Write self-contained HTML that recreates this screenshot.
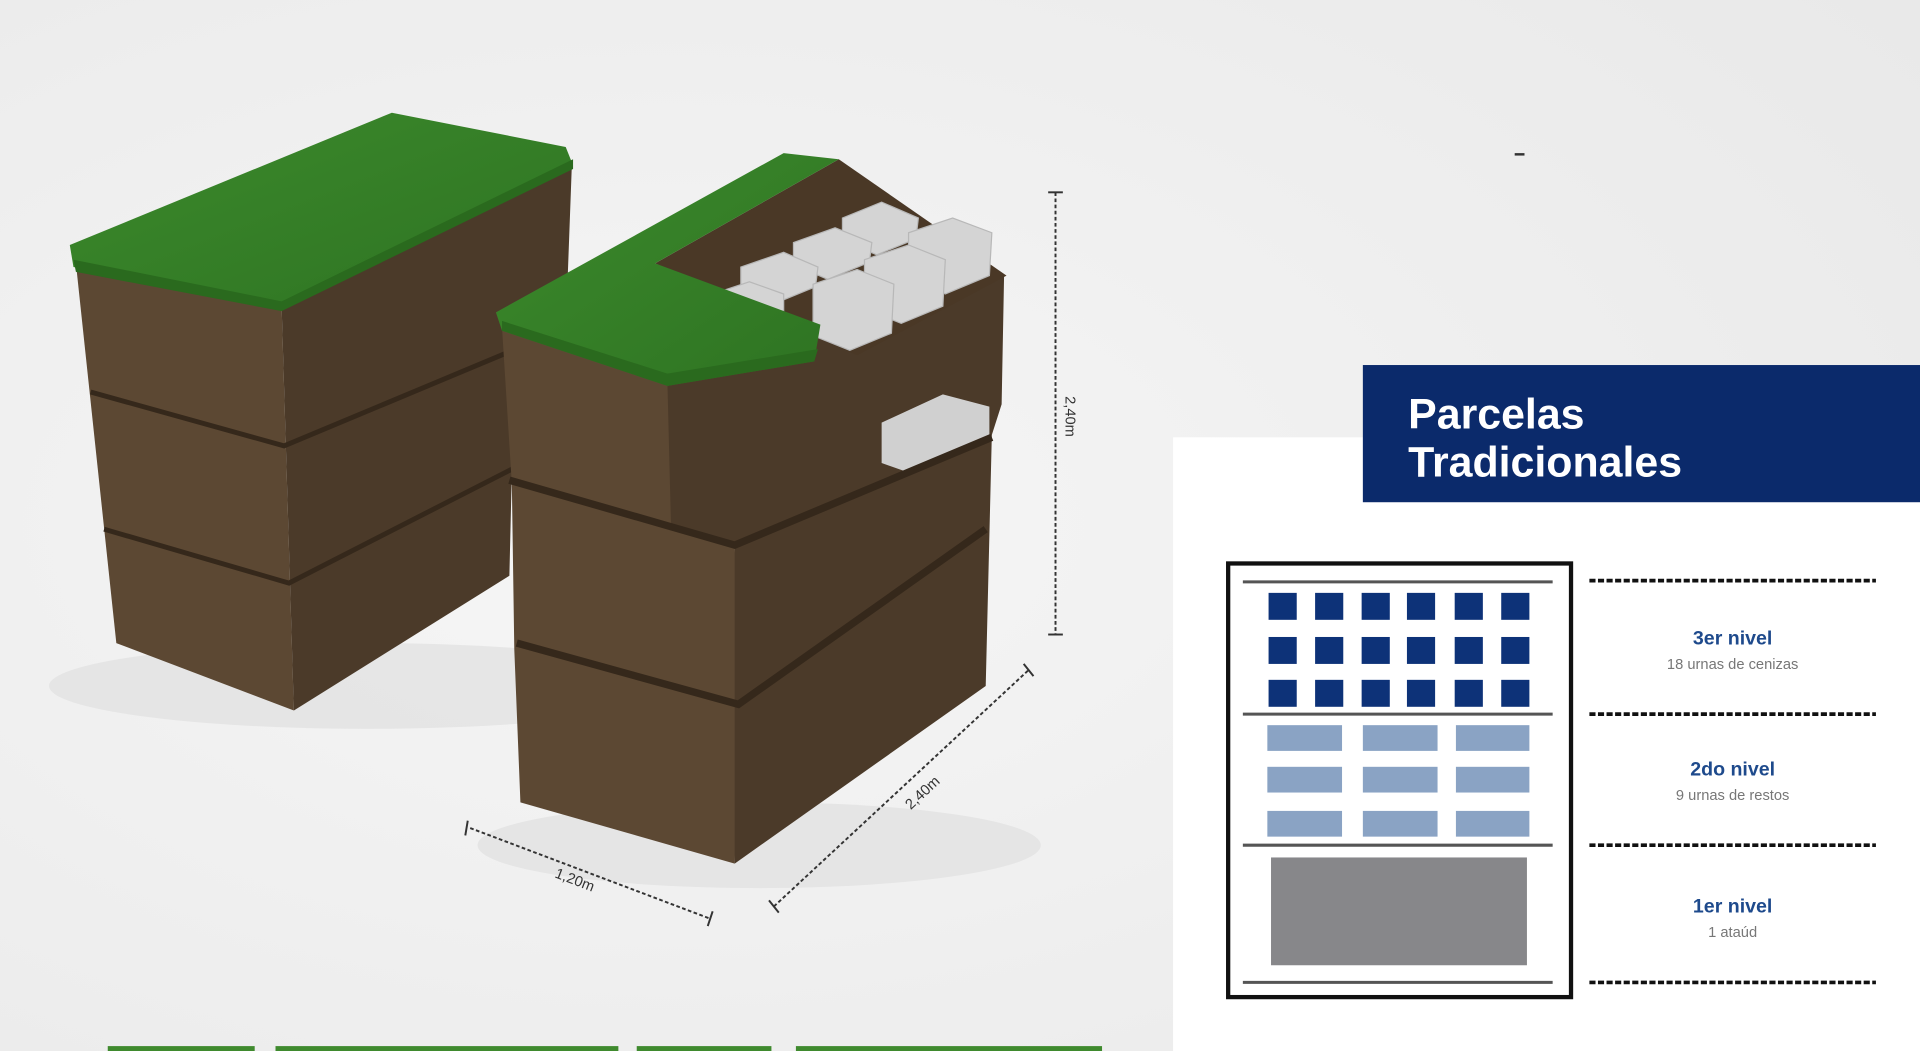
<!DOCTYPE html>
<html><head><meta charset="utf-8"><style>
html,body{margin:0;padding:0;width:1920px;height:1051px;overflow:hidden;background:#efefef}
svg{display:block}
</style></head><body>
<svg width="1920" height="1051" viewBox="0 0 1568 858" preserveAspectRatio="none" xmlns="http://www.w3.org/2000/svg">
<defs>
<radialGradient id="bg" cx="0.35" cy="0.5" r="0.8"><stop offset="0" stop-color="#f6f6f6"/><stop offset="1" stop-color="#e9e9e9"/></radialGradient>
<linearGradient id="gr" x1="0" y1="0" x2="1" y2="1"><stop offset="0" stop-color="#3c8a2c"/><stop offset="1" stop-color="#2e7322"/></linearGradient>
</defs>
<rect width="1568" height="858" fill="url(#bg)"/>
<ellipse cx="300" cy="560" rx="260" ry="35" fill="#e0e0e0" opacity="0.7"/>
<ellipse cx="620" cy="690" rx="230" ry="35" fill="#e0e0e0" opacity="0.7"/>
<!-- left block -->
<polygon points="62,215 230,250 240,580 95,525" fill="#5c4833"/>
<polygon points="230,250 467,135 462,270 420,280 418,385 416,470 240,580" fill="#4b3a29"/>
<g stroke="#35281b" stroke-width="4" fill="none">
<polyline points="74,320 232,364 462,268"/>
<polyline points="85,432 236,476 418,383"/>
</g>
<polygon points="57,200 320,92 462,120 468,135 230,252 60,218" fill="url(#gr)"/>
<polygon points="60,212 230,246 468,130 468,138 230,254 62,222" fill="#2a6a1e"/>
<!-- right block -->
<polygon points="410,268 548,312 548,430 600,445 605,570 600,705 425,655 420,530 418,395" fill="#5c4833"/>
<polygon points="545,310 820,225 818,330 810,355 805,560 600,705 600,445 548,430" fill="#4b3a29"/>
<polygon points="720,345 770,322 808,332 808,356 740,385 720,378" fill="#d0d0d0"/>
<g stroke="#35281b" stroke-width="6" fill="none">
<polyline points="416,392 548,430 600,445 810,357"/>
<polyline points="422,525 603,575 805,432"/>
</g>
<polygon points="535,215 685,130 822,225 700,290" fill="#4a3826"/>
<g fill="#d4d4d4" stroke="#b8b8b8" stroke-width="1">
<polygon points="688,178 720,165 750,178 748,195 716,208 688,196"/>
<polygon points="742,190 778,178 810,190 808,225 772,240 742,226"/>
<polygon points="648,198 682,186 712,198 710,214 676,228 648,216"/>
<polygon points="706,212 742,200 772,212 770,250 736,264 706,252"/>
<polygon points="605,218 640,206 668,218 666,234 632,248 605,236"/>
<polygon points="664,232 700,220 730,232 728,272 694,286 664,274"/>
<polygon points="588,238 612,230 640,240 640,256 612,262 588,252"/>
</g>
<polygon points="405,255 640,125 685,130 535,215 670,265 665,295 545,315 410,270" fill="url(#gr)"/>
<polygon points="410,262 545,305 668,285 665,295 545,315 410,270" fill="#2a6a1e"/>
<!-- dimension lines -->
<g stroke="#333" stroke-width="1.6" stroke-dasharray="3,2" fill="none">
<line x1="862" y1="157" x2="862" y2="518"/>
<line x1="632" y1="740" x2="840" y2="547"/>
<line x1="384" y1="676" x2="580" y2="750"/>
</g>
<g stroke="#333" stroke-width="1.6">
<line x1="856" y1="157" x2="868" y2="157"/><line x1="856" y1="518" x2="868" y2="518"/>
<line x1="628" y1="735" x2="636" y2="745"/><line x1="836" y1="542" x2="844" y2="552"/>
<line x1="382" y1="670" x2="380" y2="682"/><line x1="582" y1="744" x2="578" y2="756"/>
</g>
<g font-family="Liberation Sans, sans-serif" font-size="12" fill="#333">
<text x="0" y="0" transform="translate(870,340) rotate(90)" text-anchor="middle">2,40m</text>
<text x="0" y="0" transform="translate(756,650) rotate(-43)" text-anchor="middle">2,40m</text>
<text x="0" y="0" transform="translate(468,722) rotate(21)" text-anchor="middle">1,20m</text>
</g>
<g fill="#3f8a2e"><rect x="88" y="854" width="120" height="4"/><rect x="225" y="854" width="280" height="4"/><rect x="520" y="854" width="110" height="4"/><rect x="650" y="854" width="250" height="4"/></g>
<!-- right panel -->
<rect x="1237" y="125" width="8" height="2" fill="#333"/>
<rect x="958" y="357" width="610" height="501" fill="#fff"/>
<rect x="1113" y="298" width="455" height="112" fill="#0b2a6b"/>
<g font-family="Liberation Sans, sans-serif" font-weight="bold" font-size="35" fill="#fff">
<text x="1150" y="350">Parcelas</text>
<text x="1150" y="389">Tradicionales</text>
</g>
<rect x="1003" y="460" width="280" height="354" fill="none" stroke="#111" stroke-width="3.5"/>
<g stroke="#555" stroke-width="2.5">
<line x1="1015" y1="475" x2="1268" y2="475"/><line x1="1015" y1="583" x2="1268" y2="583"/>
<line x1="1015" y1="690" x2="1268" y2="690"/><line x1="1015" y1="802" x2="1268" y2="802"/>
</g>
<g fill="#0d3278">
<rect x="1036" y="484" width="23" height="22"/><rect x="1074" y="484" width="23" height="22"/><rect x="1112" y="484" width="23" height="22"/><rect x="1149" y="484" width="23" height="22"/><rect x="1188" y="484" width="23" height="22"/><rect x="1226" y="484" width="23" height="22"/>
<rect x="1036" y="520" width="23" height="22"/><rect x="1074" y="520" width="23" height="22"/><rect x="1112" y="520" width="23" height="22"/><rect x="1149" y="520" width="23" height="22"/><rect x="1188" y="520" width="23" height="22"/><rect x="1226" y="520" width="23" height="22"/>
<rect x="1036" y="555" width="23" height="22"/><rect x="1074" y="555" width="23" height="22"/><rect x="1112" y="555" width="23" height="22"/><rect x="1149" y="555" width="23" height="22"/><rect x="1188" y="555" width="23" height="22"/><rect x="1226" y="555" width="23" height="22"/>
</g>
<g fill="#8aa3c4">
<rect x="1035" y="592" width="61" height="21"/><rect x="1113" y="592" width="61" height="21"/><rect x="1189" y="592" width="60" height="21"/>
<rect x="1035" y="626" width="61" height="21"/><rect x="1113" y="626" width="61" height="21"/><rect x="1189" y="626" width="60" height="21"/>
<rect x="1035" y="662" width="61" height="21"/><rect x="1113" y="662" width="61" height="21"/><rect x="1189" y="662" width="60" height="21"/>
</g>
<rect x="1038" y="700" width="209" height="88" fill="#87878a"/>
<g stroke="#111" stroke-width="3" stroke-dasharray="5,2">
<line x1="1298" y1="474" x2="1532" y2="474"/><line x1="1298" y1="583" x2="1532" y2="583"/>
<line x1="1298" y1="690" x2="1532" y2="690"/><line x1="1298" y1="802" x2="1532" y2="802"/>
</g>
<g font-family="Liberation Sans, sans-serif" text-anchor="middle">
<text x="1415" y="526" font-size="16" font-weight="bold" fill="#1e4a8c">3er nivel</text>
<text x="1415" y="546" font-size="12" fill="#777">18 urnas de cenizas</text>
<text x="1415" y="633" font-size="16" font-weight="bold" fill="#1e4a8c">2do nivel</text>
<text x="1415" y="653" font-size="12" fill="#777">9 urnas de restos</text>
<text x="1415" y="745" font-size="16" font-weight="bold" fill="#1e4a8c">1er nivel</text>
<text x="1415" y="765" font-size="12" fill="#777">1 ataúd</text>
</g>
</svg>
</body></html>
